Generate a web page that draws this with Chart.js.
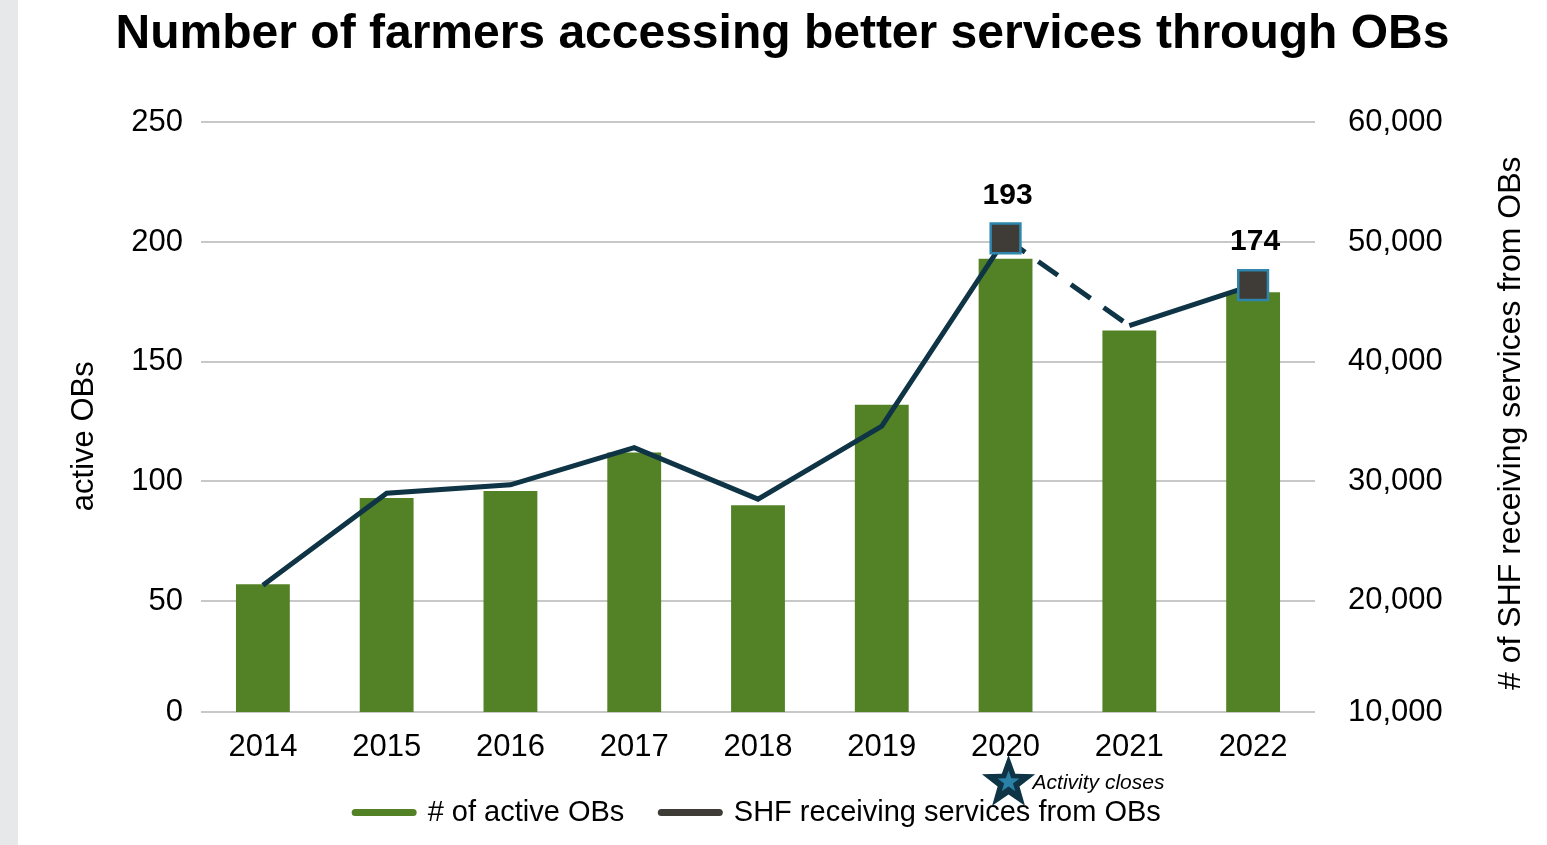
<!DOCTYPE html>
<html>
<head>
<meta charset="utf-8">
<script src="https://cdn.jsdelivr.net/npm/chart.js@4.4.1/dist/chart.umd.min.js"></script>
<style>
  html, body { margin: 0; padding: 0; background: #e7e8ea; }
  #wrap { position: absolute; left: 18px; top: 0; width: 1529px; height: 845px; background: #fff; }
</style>
</head>
<body>
<div id="wrap"><canvas id="obs"></canvas></div>
<script>
// values
const years = ['2014', '2015', '2016', '2017', '2018', '2019', '2020', '2021', '2022'];
const activeOBs = [57, 93, 96, 112, 90, 132, 193, 163, 179];
const shfServed = [21300, 29000, 29700, 32800, 28500, 34600, 50300, 43000, 46400];
const pointNotes = ['', '', '', '', '', '', '193', '', '174'];
const leftTicks = [0, 50, 100, 150, 200, 250];
const rightTicks = [10000, 20000, 30000, 40000, 50000, 60000];
const closeIndex = 6;
const closeText = 'Activity closes';

// the bottom band of the original is a bit shorter than the others
const leftMin = 3.6;
const rightMin = 10700;

const green = '#538226';
const navy = '#0e3446';
const markFill = '#3f3b36';
const markEdge = '#2e86ad';
const FONT = 'Liberation Sans, Arial, sans-serif';

function starPath(ctx, cx, cy, R, r) {
  ctx.beginPath();
  for (let i = 0; i < 10; i++) {
    let rad = i % 2 === 0 ? R : r;
    let a = -Math.PI / 2 + i * Math.PI / 5;
    let px = cx + Math.cos(a) * rad, py = cy + Math.sin(a) * rad;
    if (i === 0) ctx.moveTo(px, py); else ctx.lineTo(px, py);
  }
  ctx.closePath();
}

const extras = {
  id: 'extras',
  afterDraw(chart) {
    const ctx = chart.ctx;
    const area = chart.chartArea;
    const mid = (area.top + area.bottom) / 2;
    ctx.save();
    ctx.fillStyle = '#000';
    ctx.textAlign = 'center';
    ctx.textBaseline = 'middle';

    // axis titles, both read upwards
    ctx.font = '31px ' + FONT;
    ctx.save();
    ctx.translate(chart.scales.y.left + 66, mid + 19);
    ctx.rotate(-Math.PI / 2);
    ctx.fillText('active OBs', 0, 0);
    ctx.restore();
    ctx.font = '32px ' + FONT;
    ctx.save();
    ctx.translate(chart.scales.y1.right - 36, mid + 6);
    ctx.rotate(-Math.PI / 2);
    ctx.fillText('# of SHF receiving services from OBs', 0, 0);
    ctx.restore();

    // labels over the marked points
    ctx.font = 'bold 30px ' + FONT;
    const pts = chart.getDatasetMeta(1).data;
    pointNotes.forEach((t, i) => {
      if (t) ctx.fillText(t, pts[i].x + 2, pts[i].y - 43);
    });

    // star + note under the 2020 label
    const sx = chart.scales.x.getPixelForValue(closeIndex) + 3;
    const sy = area.bottom + 71;
    ctx.fillStyle = navy;
    starPath(ctx, sx, sy, 28, 11.5);
    ctx.fill();
    ctx.fillStyle = '#2a80a6';
    starPath(ctx, sx, sy - 1, 11.5, 4.6);
    ctx.fill();
    ctx.fillStyle = '#000';
    ctx.textAlign = 'left';
    ctx.font = 'italic 21px ' + FONT;
    ctx.fillText(closeText, sx + 24, sy);
    ctx.restore();
  }
};

new Chart(document.getElementById('obs'), {
  type: 'bar',
  data: {
    labels: years,
    datasets: [
      {
        label: '# of active OBs',
        data: activeOBs,
        backgroundColor: green,
        yAxisID: 'y',
        categoryPercentage: 1,
        barPercentage: 0.435,
        order: 1
      },
      {
        type: 'line',
        label: 'SHF receiving services from OBs',
        data: shfServed,
        yAxisID: 'y1',
        borderColor: navy,
        borderWidth: 5,
        tension: 0,
        pointStyle: 'rect',
        pointRadius: pointNotes.map(t => t ? 21 : 0),
        pointBackgroundColor: markFill,
        pointBorderColor: markEdge,
        pointBorderWidth: 2.5,
        segment: {
          borderDash: c => c.p0DataIndex === closeIndex ? [24, 16] : undefined
        },
        order: 0
      }
    ]
  },
  options: {
    responsive: true,
    maintainAspectRatio: false,
    animation: false,
    layout: { padding: { left: 0, right: 0, top: 0, bottom: 8 } },
    plugins: {
      title: {
        display: true,
        text: 'Number of farmers accessing better services through OBs',
        color: '#000',
        font: { family: FONT, size: 48, weight: 'bold' },
        padding: { top: 6, bottom: 58.8 }
      },
      legend: {
        position: 'bottom',
        fullSize: false,
        labels: {
          color: '#000',
          font: { family: FONT, size: 29 },
          usePointStyle: true,
          pointStyleWidth: 58,
          boxHeight: 29,
          padding: 37,
          generateLabels: () => [
            { text: '# of active OBs', fillStyle: green, strokeStyle: green, lineWidth: 7, lineCap: 'round', pointStyle: 'line', fontColor: '#000', datasetIndex: 0 },
            { text: 'SHF receiving services from OBs', fillStyle: markFill, strokeStyle: markFill, lineWidth: 7, lineCap: 'round', pointStyle: 'line', fontColor: '#000', datasetIndex: 1 }
          ]
        }
      },
      tooltip: { enabled: false }
    },
    scales: {
      x: {
        grid: { display: false },
        border: { display: false },
        ticks: { color: '#000', font: { family: FONT, size: 31 }, padding: 9, maxRotation: 0, autoSkip: false },
        afterFit: s => { s.height = 49; }
      },
      y: {
        position: 'left',
        min: leftMin,
        max: 250,
        grid: { color: '#c8c8c8', lineWidth: 2, drawTicks: false },
        border: { display: false },
        afterBuildTicks: s => { s.ticks = leftTicks.map(v => ({ value: Math.max(v, leftMin) })); },
        ticks: {
          color: '#000',
          font: { family: FONT, size: 31 },
          padding: 18,
          callback: (v, i) => leftTicks[i]
        },
        afterFit: s => { s.width = 183; }
      },
      y1: {
        position: 'right',
        min: rightMin,
        max: 60000,
        grid: { display: false, drawTicks: false },
        border: { display: false },
        afterBuildTicks: s => { s.ticks = rightTicks.map(v => ({ value: Math.max(v, rightMin) })); },
        ticks: {
          color: '#000',
          font: { family: FONT, size: 31 },
          padding: 33,
          callback: (v, i) => rightTicks[i].toLocaleString('en-US')
        },
        afterFit: s => { s.width = 232; }
      }
    }
  },
  plugins: [extras]
});
</script>
</body>
</html>
